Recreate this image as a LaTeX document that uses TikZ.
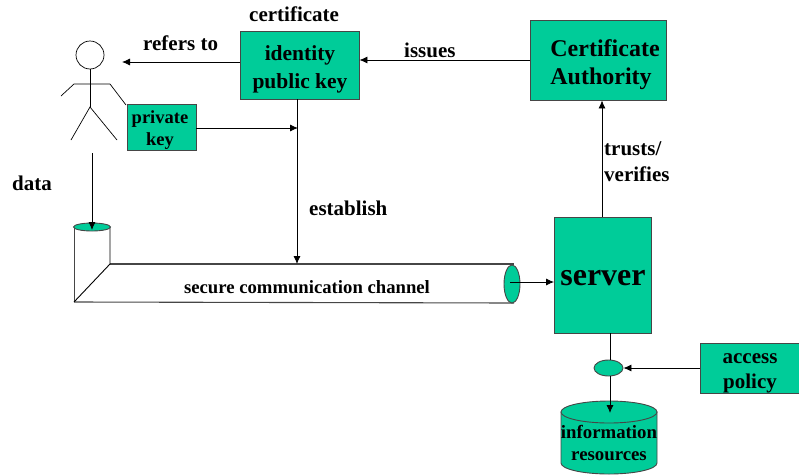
\documentclass[tikz,border=0pt]{standalone}
\usepackage{fontspec}
\setmainfont{Liberation Serif}
\usetikzlibrary{arrows.meta,shapes.geometric}
\definecolor{boxfill}{RGB}{0,204,153}
\definecolor{edge}{RGB}{70,70,70}
\tikzset{
  box/.style={draw=edge,line width=0.9pt,fill=boxfill,inner sep=0pt},
  lbl/.style={font=\fontsize{21}{23}\bfseries\selectfont,text=black,inner sep=0pt,align=left},
  ctr/.style={lbl,align=center},
  conn/.style={draw=black,line width=0.8pt,-{Latex[length=8pt,width=7pt]}},
  plain/.style={draw=black,line width=0.8pt},
  tube/.style={draw=edge,line width=1.1pt},
  figure/.style={draw=black,line width=0.7pt},
}
\begin{document}
\begin{tikzpicture}[x=1pt,y=-1pt]
\useasboundingbox (0,0) rectangle (799,474);
% person
\node[figure,circle,minimum size=28pt,inner sep=0pt] (head) at (90,55) {};
\coordinate (hip) at (90,107);
\coordinate (armL) at (74,84);
\coordinate (armR) at (110,84);
\draw[figure] (head.south) -- (hip);
\draw[figure] (61,96) -- (armL) -- (armR) -- (126,105);
\draw[figure] (71,140) -- (hip) -- (117,140);
% boxes
\node[box,minimum width=119pt,minimum height=68pt] (id) at (299.5,65) {};
\node[ctr,font=\fontsize{21.5}{28}\bfseries\selectfont] (idtext) at (300,69) {identity\\public key};
\node[box,minimum width=69pt,minimum height=46pt] (priv) at (161.5,127) {};
\node[ctr,font=\fontsize{18.5}{22}\bfseries\selectfont] (privtext) at (160,130) {private\\key};
\node[box,minimum width=136pt,minimum height=80pt] (ca) at (598,60) {};
\node[lbl,font=\fontsize{24}{28}\bfseries\selectfont] (catext) at (605,65) {Certificate\\Authority};
\node[box,minimum width=97pt,minimum height=116pt] (server) at (603,275) {};
\node[ctr,font=\fontsize{32}{34}\bfseries\selectfont] (servertext) at (603,278) {server};
\node[box,minimum width=100pt,minimum height=50pt] (policy) at (750,368) {};
\node[ctr,font=\fontsize{21}{25}\bfseries\selectfont] (policytext) at (750,373) {access\\policy};
\node[box,ellipse,minimum width=29pt,minimum height=16pt] (gate) at (608.5,368) {};
% cylinder
\path[box,draw=edge] (561,412) -- (561,463) arc[start angle=180,end angle=360,x radius=48,y radius=-11] -- (657,412) -- cycle;
\draw[box,draw=edge] (609,412) ellipse[x radius=48,y radius=11];
\node[ctr,font=\fontsize{18.8}{22}\bfseries\selectfont] (info) at (609,443) {information\\resources};
% tube
\coordinate (tlt) at (110,264);
\coordinate (tlb) at (74,302);
\coordinate (trt) at (514,264);
\coordinate (trb) at (514,303);
\draw[tube] (tlt) -- (trt);
\draw[tube] (tlb) -- (trb);
\draw[tube,line width=0.9pt] (74,227) -- (tlb);
\draw[figure,line width=0.9pt] (tlb) -- (tlt) -- (110,227);
\node[draw=edge,line width=0.9pt,fill=boxfill,ellipse,minimum width=37pt,minimum height=8pt,inner sep=0pt] (tubeL) at (92,227) {};
\node[draw=edge,line width=0.9pt,fill=boxfill,ellipse,minimum width=16pt,minimum height=38pt,inner sep=0pt] (tubeR) at (512,284) {};
\coordinate (tubeC) at (510,282);
\coordinate (tubeTop) at (297,264);
% free ends
\coordinate (refEnd) at (122,62);
\coordinate (mid) at (298,128);
\coordinate (drop) at (297,128);
\coordinate (dataStart) at (92,153);
\coordinate (dataEnd) at (92,230);
\coordinate (trustX) at (602,100);
\coordinate (srvOut) at (610,333);
\coordinate (cylIn) at (610,413);
% connectors
\draw[conn] (id.west |- refEnd) -- (refEnd);
\draw[conn] (priv.east |- mid) -- (mid);
\draw[conn] (id.south -| drop) -- (tubeTop);
\draw[conn] (dataStart) -- (dataEnd);
\draw[conn] (ca.west) -- (id.east |- ca.west);
\draw[conn] (server.north -| trustX) -- (ca.south -| trustX);
\draw[conn] (tubeC) -- (server.west |- tubeC);
\draw[plain] (srvOut) -- (gate.north -| srvOut);
\draw[conn] (gate.south -| srvOut) -- (cylIn);
\draw[conn] (policy.west) -- (gate.east);
% labels
\node[lbl,anchor=west] (l1) at (249,14) {certificate};
\node[lbl,anchor=west] (l2) at (143,43) {refers to};
\node[lbl,anchor=west] (l3) at (404,50) {issues};
\node[lbl,anchor=west] (l4) at (12,183) {data};
\node[lbl,anchor=west] (l5) at (309,208) {establish};
\node[lbl,anchor=west,font=\fontsize{21}{26}\bfseries\selectfont] (l6) at (604,162) {trusts/\\verifies};
\node[lbl,font=\fontsize{18.7}{20}\bfseries\selectfont] (l7) at (307,287) {secure communication channel};
\end{tikzpicture}
\end{document}
